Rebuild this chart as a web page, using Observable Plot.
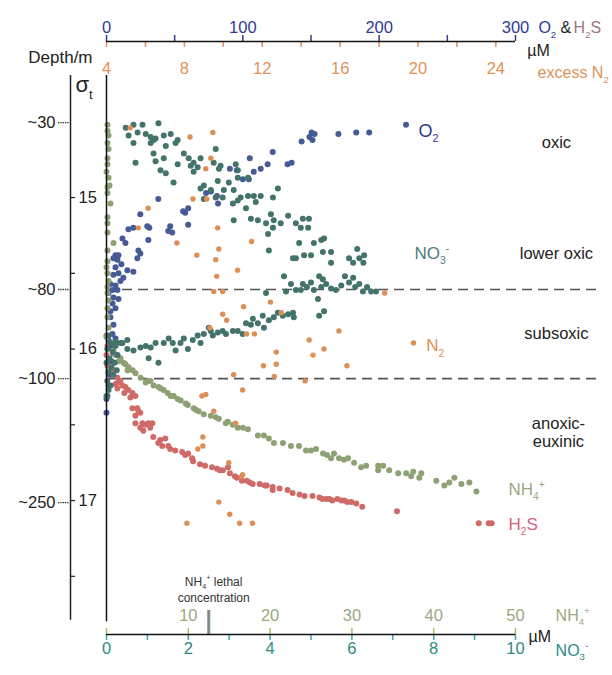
<!DOCTYPE html>
<html><head><meta charset="utf-8">
<script src="https://cdn.jsdelivr.net/npm/d3@7"></script>
<script src="https://cdn.jsdelivr.net/npm/@observablehq/plot@0.6"></script>
<style>body{margin:0;background:#fff} svg{display:block}</style>
</head><body><div id="chart"></div>
<script>
// ---- data: [concentration, sigma-t] ----
const o2Data = [[219.7,14.52],[192.7,14.57],[183.2,14.57],[170.1,14.58],[152.6,14.58],[150.4,14.57],[151.1,14.62],[148.9,14.60],[143.1,14.63],[121.9,14.70],[105.1,14.74],[118.2,14.78],[132.8,14.78],[135.8,14.77],[90.5,14.81],[95.6,14.82],[108.0,14.83],[113.1,14.81],[100.0,14.88],[104.4,14.88],[73.0,14.97],[76.6,14.96],[81.0,14.99],[81.8,15.04],[38.0,15.01],[59.9,15.07],[56.2,15.09],[57.7,15.10],[24.8,15.11],[59.9,15.18],[46.7,15.19],[45.3,15.22],[48.2,15.23],[30.7,15.28],[19.7,15.20],[29.9,15.19],[31.4,15.20],[16.1,15.21],[11.7,15.27],[13.9,15.30],[23.4,15.35],[24.8,15.37],[22.6,15.40],[6.6,15.38],[8.8,15.38],[5.1,15.40],[8.0,15.41],[10.9,15.44],[6.6,15.46],[5.1,15.51],[8.8,15.50],[15.3,15.48],[19.7,15.49],[12.4,15.53],[2.9,15.57],[6.6,15.58],[4.4,15.61],[8.0,15.61],[5.1,15.66],[4.4,15.70],[6.6,15.73],[2.9,15.79],[5.1,15.84],[4.4,15.90],[6.6,15.93],[2.9,15.99],[5.1,16.03],[0.7,16.31],[0.0,16.33],[0.0,16.42],[10.2,15.55],[1.5,15.63],[8.8,15.67],[2.9,15.75],[1.5,15.94],[3.6,16.08],[2.2,16.17],[1.5,16.24]];

const no3Data = [[0.47,14.54],[0.66,14.52],[0.88,14.52],[1.27,14.51],[0.54,14.59],[0.76,14.57],[0.96,14.58],[1.08,14.60],[1.20,14.61],[1.40,14.59],[1.57,14.58],[0.66,14.64],[1.08,14.64],[1.15,14.62],[1.45,14.66],[1.69,14.64],[1.74,14.62],[1.15,14.71],[1.40,14.74],[1.20,14.76],[0.71,14.77],[1.89,14.71],[2.01,14.74],[2.13,14.77],[2.30,14.74],[2.06,14.79],[2.23,14.80],[1.74,14.78],[2.67,14.68],[2.62,14.77],[2.75,14.81],[2.79,14.79],[3.16,14.78],[3.21,14.82],[1.32,14.82],[1.45,14.84],[1.64,14.90],[2.13,14.83],[2.72,14.89],[2.99,14.90],[3.21,14.87],[3.46,14.87],[2.30,14.94],[2.38,14.92],[2.55,14.95],[2.87,14.95],[3.11,14.95],[3.28,15.00],[3.46,14.99],[3.60,14.99],[3.77,14.99],[4.19,14.94],[4.07,15.00],[2.38,15.01],[2.67,15.00],[2.84,15.00],[3.09,15.04],[3.21,15.02],[3.41,15.07],[3.65,15.03],[3.11,15.15],[3.53,15.14],[3.70,15.15],[3.90,15.17],[4.02,15.11],[4.09,15.15],[4.26,15.17],[4.07,15.20],[4.44,15.12],[4.63,15.17],[4.80,15.14],[4.95,15.14],[4.75,15.20],[4.93,15.20],[3.95,15.24],[3.97,15.35],[4.71,15.30],[5.07,15.30],[5.25,15.28],[5.32,15.27],[4.56,15.40],[4.63,15.40],[4.83,15.38],[5.00,15.38],[5.29,15.36],[5.49,15.36],[5.93,15.40],[6.18,15.40],[6.30,15.38],[6.13,15.34],[5.49,15.43],[6.03,15.43],[6.28,15.43],
[3.90,15.63],[4.34,15.52],[4.51,15.57],[4.63,15.61],[4.80,15.57],[4.90,15.59],[5.00,15.56],[5.07,15.61],[5.20,15.52],[5.29,15.54],[5.25,15.59],[5.37,15.57],[5.49,15.60],[5.61,15.61],[5.74,15.58],[5.83,15.52],[5.93,15.56],[6.03,15.53],[6.08,15.59],[6.18,15.57],[6.27,15.62],[6.37,15.59],[6.47,15.62],[6.59,15.62],[5.17,15.67],[5.20,15.78],[5.32,15.75],[4.75,15.61],[4.39,15.62],
[0.34,15.96],[0.51,16.00],[0.66,16.01],[0.83,15.99],[0.96,15.98],[1.08,15.99],[1.20,15.96],[1.03,16.06],[1.27,16.09],[1.40,15.96],[1.52,15.93],[1.62,15.96],[1.69,16.01],[1.81,15.96],[1.89,15.93],[1.99,16.00],[2.11,15.94],[2.23,15.91],[2.30,15.96],[2.38,15.90],[2.50,15.86],[2.60,15.91],[2.72,15.89],[2.84,15.88],[2.92,15.90],[3.09,15.88],[3.21,15.88],[3.33,15.90],[3.41,15.83],[3.58,15.80],[3.70,15.83],[3.82,15.78],[3.85,15.86],[3.97,15.81],[4.09,15.79],[4.19,15.76],[4.31,15.78],[4.44,15.77],[4.56,15.76],[4.58,15.79],[3.53,15.84],[2.55,15.88],
[0.05,15.91],[0.10,15.96],[0.02,16.00],[0.15,16.02],[0.07,16.06],[0.00,16.09],[0.12,16.12],[0.05,16.15],[0.17,16.17],[0.02,16.21],[0.10,16.24],[0.05,16.27],[0.00,16.31],[0.22,15.98],[0.27,16.04],[0.20,16.09],[0.25,16.14],[0.39,15.96],[0.51,15.94],[0.22,15.95]];

const n2Data = [[5.22,14.54],[8.29,14.60],[9.46,14.57],[9.36,14.74],[9.10,14.81],[8.44,15.01],[9.15,15.01],[6.14,15.07],[5.63,15.20],[7.62,15.30],[8.64,15.38],[9.71,15.20],[9.77,15.34],[9.61,15.41],[9.66,15.52],[10.73,15.48],[11.45,15.29],[9.51,15.62],[9.97,15.62],[18.29,15.63],[11.04,15.72],[12.42,15.69],[12.98,15.76],[9.97,15.77],[10.17,15.81],[9.31,15.86],[11.19,15.90],[11.60,15.90],[15.94,15.88],[14.41,15.94],[15.17,16.00],[12.72,16.02],[14.61,16.04],[12.06,16.11],[12.72,16.10],[16.35,16.11],[19.77,15.96],[10.53,16.17],[12.62,16.18],[14.20,16.21],[10.99,16.27],[8.90,16.31],[9.10,16.30],[9.51,16.41],[10.63,16.49],[8.95,16.58],[8.95,16.64],[8.69,16.66],[10.28,16.75],[10.99,16.83],[10.94,16.84],[9.77,17.01],[10.33,17.09],[8.13,17.15],[10.84,17.15],[11.50,17.15]];

const nh4Data = [[0.12,14.52],[0.12,14.56],[0.25,14.59],[0.12,14.64],[0.25,14.68],[0.37,14.92],[0.12,14.74],[0.12,14.78],[0.0,14.83],[0.25,14.87],[0.12,14.93],[0.12,14.97],[0.49,15.04],[0.12,15.13],[0.12,15.17],[0.12,15.23],[0.86,15.30],[0.12,15.35],[0.12,15.42],[0.0,15.46],[0.12,15.50],[0.25,15.55],[0.12,15.59],[0.12,15.63],[0.25,15.68],[0.12,15.73],[0.12,15.79],[0.25,15.86],[0.0,15.92],
[0.49,15.96],[0.86,16.01],[1.10,16.04],[1.47,16.08],[2.08,16.09],[2.57,16.14],[2.70,16.12],[3.55,16.16],[4.17,16.19],[4.78,16.22],[5.02,16.21],[5.76,16.24],[6.37,16.25],[6.99,16.27],[7.48,16.29],[8.21,16.31],[9.07,16.34],[9.68,16.36],[9.93,16.37],[10.66,16.39],[11.27,16.41],[11.89,16.43],[12.75,16.44],[13.73,16.46],[14.58,16.49],[14.83,16.48],[16.05,16.52],[17.28,16.53],[18.50,16.57],[19.24,16.57],[20.47,16.62],[21.57,16.62],[22.55,16.64],[24.39,16.67],[25.61,16.66],[26.47,16.69],[27.45,16.72],[27.82,16.69],[28.43,16.72],[29.53,16.72],[30.27,16.75],[31.13,16.78],[31.74,16.77],[33.21,16.77],[33.21,16.80],[33.82,16.77],[34.56,16.80],[35.66,16.82],[36.64,16.82],[37.25,16.84],[37.50,16.81],[38.48,16.82],[38.24,16.85],[40.32,16.87],[41.30,16.90],[41.91,16.88],[42.52,16.85],[43.38,16.89],[44.36,16.88],[45.22,16.94],
[1.72,16.06],[2.33,16.10],[3.19,16.14],[5.39,16.21],[6.62,16.26],[7.84,16.31],[8.70,16.33],[10.91,16.40],[13.36,16.45],[15.44,16.50],[16.67,16.52],[19.85,16.59],[23.53,16.64],[25.0,16.67],[26.96,16.70],[29.04,16.73]];

const h2sData = [[0,15.91],[0.7,15.98],[0,16.04],[0.7,16.11],[1.5,16.16],[5.1,16.14],[8.0,16.19],[10.2,16.21],[6.6,16.23],[11.7,16.24],[13.9,16.25],[8.0,16.26],[16.1,16.27],[19.0,16.29],[17.5,16.32],[21.2,16.31],[19.0,16.39],[22.6,16.39],[24.8,16.42],[21.2,16.44],[21.2,16.49],[26.3,16.49],[30.7,16.49],[33.6,16.49],[27.0,16.54],[24.8,16.52],[34.3,16.58],[39.4,16.60],[43.1,16.59],[40.9,16.64],[46.7,16.66],[45.3,16.64],[55.5,16.68],[59.9,16.69],[62.8,16.72],[63.5,16.74],[68.6,16.76],[77.4,16.78],[81.0,16.79],[85.4,16.80],[89.1,16.78],[90.5,16.82],[95.6,16.85],[99.3,16.87],[102.9,16.87],[107.3,16.89],[112.4,16.89],[117.5,16.90],[121.9,16.91],[121.9,16.93],[132.8,16.93],[136.5,16.95],[145.3,16.97],[151.1,16.97],[156.2,16.98],[158.4,16.99],[161.3,16.99],[165.7,17.00],[172.3,17.00],[174.5,17.00],[179.6,17.01],[183.2,17.02],[187.6,17.04],[213.1,17.07],[273.0,17.15],[280.3,17.15],[282.5,17.15],
[2.9,16.17],[8.8,16.22],[13.1,16.29],[23.4,16.41],[28.5,16.50],[32.1,16.52],[38.0,16.62],[50.4,16.67],[57.7,16.70],[72.3,16.77],[83.2,16.80],[94.2,16.84],[105.1,16.88],[116.1,16.90],[127.0,16.92],[141.6,16.96],[163.5,16.99],[169.3,16.99],[176.6,17.01]];

// ---- axes / labels ----
const o2Ticks = [0,50,100,150,200,250,300];
const o2Labels = [0,100,200,300];
const n2Ticks = [4,6,8,10,12,14,16,18,20,22,24];
const n2Labels = [4,8,12,16,20,24];
const no3Ticks = [0,1,2,3,4,5,6,7,8,9,10];
const no3Labels = [0,2,4,6,8,10];
const nh4Ticks = [0,10,20,30,40,50];
const nh4Labels = [10,20,30,40,50];
const sigmaTicks = [15,15.5,16,16.5,17,17.5];
const sigmaLabels = [15,16,17];
const depthLabels = ["~30","~80","~100","~250"];
const depthSigma = [14.505,15.607,16.195,17.013];
const zoneBounds = [15.607,16.195];
const lethalNH4 = 12.5;

// common x unit = NO3 µM (0..10)
const fO2 = v => v / 30;
const fN2 = v => (v - 4) * 0.476;
const fNH4 = v => v / 5;
const yTop = 13.970, yBot = 17.884;
const sigAxisX = -0.88;

const blue = "#2f3a98", orange = "#e0925a", olive = "#9aa882", teal = "#2e8a85";
const cO2 = "#465a95", cNO3 = "#44736c", cN2 = "#dd8f58", cNH4 = "#8da174", cH2S = "#d06a68";

const toObj = (arr, f) => arr.map(([v, s]) => ({x: f(v), s}));
const R = 3;

const chart = Plot.plot({
  width: 612, height: 675,
  marginTop: 41, marginBottom: 41, marginLeft: 106, marginRight: 97,
  x: {domain: [0, 10], axis: null},
  y: {domain: [yTop, yBot], reverse: true, axis: null},
  style: {fontFamily: "'Liberation Sans', Arial, sans-serif", background: "white", overflow: "visible"},
  marks: [
    // zone boundaries
    Plot.ruleY(zoneBounds, {x1: 0, x2: 12.1, stroke: "#555", strokeWidth: 1.6, strokeDasharray: "10,6"}),
    // data
    Plot.dot(toObj(h2sData, fO2), {x: "x", y: "s", r: R, fill: cH2S}),
    Plot.dot(toObj(o2Data, fO2), {x: "x", y: "s", r: R, fill: cO2}),
    Plot.dot(toObj(nh4Data, fNH4), {x: "x", y: "s", r: R, fill: cNH4}),
    Plot.dot(toObj(no3Data, v => v), {x: "x", y: "s", r: R, fill: cNO3}),
    Plot.dot(toObj(n2Data, fN2), {x: "x", y: "s", r: R * 0.9, fill: cN2}),
    // main vertical axis
    Plot.ruleX([0], {y1: 14.195, y2: 17.80, stroke: "#111", strokeWidth: 1.5}),
    // top axis
    Plot.ruleX(o2Ticks, {x: fO2, y1: yTop, y2: yTop, insetTop: -6, stroke: blue, strokeWidth: 1.5}),
    Plot.ruleX(n2Ticks, {x: fN2, y1: yTop, y2: yTop, insetBottom: -6, stroke: orange, strokeWidth: 1.5}),
    Plot.ruleY([yTop], {x1: 0, x2: 10, stroke: "#111", strokeWidth: 1.5}),
    Plot.text(o2Labels, {x: fO2, frameAnchor: "top", dy: -20, text: d => String(d), fill: blue, fontSize: 16.5}),
    Plot.text(n2Labels, {x: fN2, frameAnchor: "top", dy: 21, text: d => String(d), fill: orange, fontSize: 16.5}),
    Plot.text(["µM"], {x: 10.29, frameAnchor: "top", dy: 3, text: d => d, textAnchor: "start", fill: "#222", fontSize: 16}),
    Plot.text(["O_2"], {x: 10.56, frameAnchor: "top", dy: -20, text: d => d, textAnchor: "start", fill: blue, fontSize: 16}),
    Plot.text(["&"], {x: 11.1, frameAnchor: "top", dy: -20, text: d => d, textAnchor: "start", fill: "#222", fontSize: 16}),
    Plot.text(["H_2S"], {x: 11.42, frameAnchor: "top", dy: -20, text: d => d, textAnchor: "start", fill: "#a07585", fontSize: 16}),
    Plot.text(["excess N_2"], {x: 10.54, frameAnchor: "top", dy: 25, text: d => d, textAnchor: "start", fill: orange, fontSize: 16}),
    // bottom axis
    Plot.ruleX(no3Ticks, {x: d => d, y1: yBot, y2: yBot, insetBottom: -6, stroke: "#3aa8aa", strokeWidth: 1.5}),
    Plot.ruleX(nh4Ticks, {x: fNH4, y1: yBot, y2: yBot, insetTop: -6, stroke: "#b3b86a", strokeWidth: 1.5}),
    Plot.ruleX([lethalNH4], {x: fNH4, y1: yBot, y2: yBot, insetTop: -24, stroke: "#7d8c88", strokeWidth: 3}),
    Plot.ruleY([yBot], {x1: 0, x2: 10, stroke: "#111", strokeWidth: 1.5}),
    Plot.text(nh4Labels, {x: fNH4, frameAnchor: "bottom", dy: -14, text: d => String(d), fill: olive, fontSize: 16.5}),
    Plot.text(no3Labels, {x: d => d, frameAnchor: "bottom", dy: 19, text: d => String(d), fill: teal, fontSize: 16.5}),
    Plot.text(["µM"], {x: 10.32, frameAnchor: "bottom", dy: 7, text: d => d, textAnchor: "start", fill: "#222", fontSize: 16}),
    Plot.text(["NH_4^+"], {x: 10.98, frameAnchor: "bottom", dy: -14, text: d => d, textAnchor: "start", fill: olive, fontSize: 16}),
    Plot.text(["NO_3^-"], {x: 10.98, frameAnchor: "bottom", dy: 21, text: d => d, textAnchor: "start", fill: teal, fontSize: 16}),
    Plot.text(["NH_4^+ lethal"], {x: 2.62, frameAnchor: "bottom", dy: -49, text: d => d, fill: "#333", fontSize: 12}),
    Plot.text(["concentration"], {x: 2.62, frameAnchor: "bottom", dy: -33, text: d => d, fill: "#333", fontSize: 12}),
    // left sigma-t / depth axis
    Plot.ruleX([sigAxisX], {y1: 14.195, y2: 17.79, stroke: "#222", strokeWidth: 1.5}),
    Plot.ruleY(sigmaTicks, {x1: sigAxisX, x2: sigAxisX, insetRight: -5, stroke: "#222", strokeWidth: 1.2}),
    Plot.text(sigmaLabels, {x: sigAxisX, y: d => d, dx: 8, text: d => String(d), textAnchor: "start", fill: "#222", fontSize: 16.5}),
    Plot.ruleY(depthSigma, {x1: sigAxisX, x2: sigAxisX, insetLeft: -12, insetRight: 1, stroke: "#222", strokeWidth: 1.3, strokeDasharray: "1.3,1"}),
    Plot.text(depthLabels, {x: sigAxisX, y: (d, i) => depthSigma[i], dx: -15, text: d => d, textAnchor: "end", fill: "#222", fontSize: 16.5}),
    Plot.text(["σ_t"], {x: -0.76, y: 14.26, text: d => d, textAnchor: "start", fill: "#222", fontSize: 22}),
    Plot.text(["Depth/m"], {x: -0.342, frameAnchor: "top", dy: 9, text: d => d, textAnchor: "end", fill: "#222", fontSize: 17}),
    // series labels
    Plot.text(["O_2"], {x: 7.63, y: 14.56, text: d => d, textAnchor: "start", fill: "#2e3a9a", fontSize: 18}),
    Plot.text(["NO_3^-"], {x: 7.53, y: 15.37, text: d => d, textAnchor: "start", fill: "#4b7c78", fontSize: 17}),
    Plot.text(["N_2"], {x: 7.82, y: 15.98, text: d => d, textAnchor: "start", fill: "#e0904f", fontSize: 17}),
    Plot.text(["NH_4^+"], {x: 9.83, y: 16.93, text: d => d, textAnchor: "start", fill: olive, fontSize: 17}),
    Plot.text(["H_2S"], {x: 9.83, y: 17.16, text: d => d, textAnchor: "start", fill: "#d9627a", fontSize: 17}),
    // zone labels
    Plot.text(["oxic"], {x: 11.0, y: 14.64, text: d => d, fill: "#222", fontSize: 16.5}),
    Plot.text(["lower oxic"], {x: 11.0, y: 15.37, text: d => d, fill: "#222", fontSize: 16.5}),
    Plot.text(["subsoxic"], {x: 11.0, y: 15.90, text: d => d, fill: "#222", fontSize: 16.5}),
    Plot.text(["anoxic-\neuxinic"], {x: 11.05, y: 16.55, text: d => d, fill: "#222", fontSize: 16.5, lineHeight: 1.1})
  ]
});

document.getElementById("chart").appendChild(chart);

// sub/superscript rendering: "_x" -> subscript x, "^x" -> superscript x
function richify(root) {
  root.querySelectorAll("text").forEach(t => {
    if (t.children.length) return;
    const s = t.textContent;
    if (!/[_^]/.test(s)) return;
    const fs = parseFloat(getComputedStyle(t).fontSize) || 16;
    t.textContent = "";
    let shift = 0;
    for (let i = 0; i < s.length; i++) {
      let c = s[i], mode = 0;
      if ((c === "_" || c === "^") && i + 1 < s.length) { mode = c === "_" ? 1 : -1; c = s[++i]; }
      const ts = document.createElementNS("http://www.w3.org/2000/svg", "tspan");
      const target = mode === 1 ? 0.3 * fs : mode === -1 ? -0.42 * fs : 0;
      if (target !== shift) { ts.setAttribute("dy", target - shift); shift = target; }
      if (mode) ts.setAttribute("font-size", 0.6 * fs);
      ts.textContent = c;
      t.appendChild(ts);
    }
  });
}
richify(chart);
</script></body></html>
